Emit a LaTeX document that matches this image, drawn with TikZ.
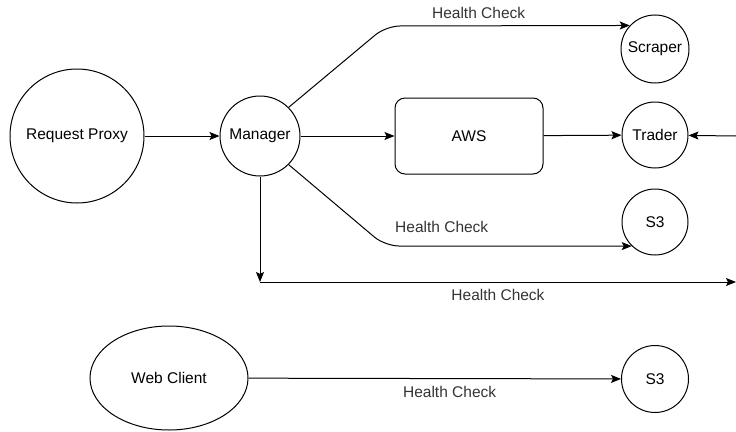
\documentclass[tikz,border=0pt]{standalone}
\usepackage{fontspec}
\setmainfont{Liberation Sans}
\usetikzlibrary{arrows.meta,shapes.geometric}

\begin{document}
\begin{tikzpicture}
[x=1pt,y=-1pt
,sv/.style={circle,draw,line width=1pt,inner sep=1pt}
,bx/.style={draw,line width=1pt,rounded corners=10pt,minimum width=148pt,minimum height=76pt}
,ed/.style={draw=black,line width=1pt,arrows={-Stealth[length=10pt,width=8pt,inset=2pt]}}
,lbl/.style={text=black!80,inner sep=7pt}
,font=\fontsize{15.5}{18}\selectfont]
\useasboundingbox (0,0) rectangle (736,431);
\node[sv,minimum size=134pt] (rp) at (77,136) {Request Proxy};
\node[sv,minimum size=80pt] (mg) at (260,136) {Manager};
\node[bx] (aws) at (469,136) {AWS};
\node[sv,minimum size=68pt] (sc) at (655,49) {Scraper};
\node[sv,minimum size=66pt] (tr) at (655,135) {Trader};
\node[sv,minimum size=66pt] (s3a) at (655,222) {S3};
\node[ellipse,draw,line width=1pt,minimum width=158pt,minimum height=104pt] (wc) at (169,378) {Web Client};
\node[sv,minimum size=67pt] (s3b) at (655,379) {S3};
\coordinate (hc) at (260,282);
\coordinate (re) at (736,282);
\coordinate (tin) at (736,136);
\draw[ed] (rp) -- (mg);
\draw[ed] (mg) -- (aws);
\draw[ed] (aws) -- (tr);
\draw[ed,rounded corners=14pt] (mg.45) -- (386,26) -- node[lbl,above,pos=0.38] {Health Check} (sc.137);
\draw[ed,rounded corners=14pt] (mg.-45) -- (385,246) -- node[lbl,above,pos=0.23,yshift=6pt] {Health Check} (s3a.-134);
\draw[ed] (mg) -- (hc);
\draw[ed] (hc) -- node[lbl,below] {Health Check} (re);
\draw[ed] (tin) -- (tr);
\draw[black!20,line width=0.6pt] (tin) -- (re);
\draw[ed] (wc) -- node[lbl,below,pos=0.54] {Health Check} (s3b);
\end{tikzpicture}
\end{document}
